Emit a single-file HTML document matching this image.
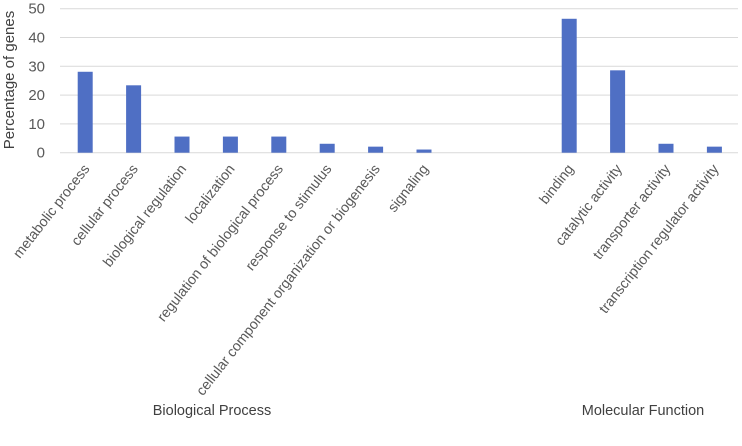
<!DOCTYPE html>
<html><head><meta charset="utf-8"><style>
body{margin:0;background:#fff;}
svg{display:block;font-family:"Liberation Sans",sans-serif;}
</style></head><body>
<svg id="chart" width="742" height="446">
<g id="grid"></g><g id="bars"></g><g id="labels"></g>
<text x="14" y="80" transform="rotate(-90 14 80)" text-anchor="middle" font-size="15" fill="#404040">Percentage of genes</text>
<text x="212" y="415" text-anchor="middle" font-size="14.5" fill="#404040">Biological Process</text>
<text x="643" y="415" text-anchor="middle" font-size="14.5" fill="#404040">Molecular Function</text>
</svg>
<script>
const categories=["metabolic process","cellular process","biological regulation","localization","regulation of biological process","response to stimulus","cellular component organization or biogenesis","signaling","","","binding","catalytic activity","transporter activity","transcription regulator activity"];
const values=[28.1,23.4,5.6,5.6,5.6,3.1,2.1,1.1,null,null,46.5,28.6,3.1,2.1];
const yTicks=[0,10,20,30,40,50];
const NS="http://www.w3.org/2000/svg";
const x0=61,slot=48.4,y0=152.7,y1=8.7,yMax=50;
const yS=v=>y0-(v/yMax)*(y0-y1);
const xC=i=>x0+slot*(i+0.5);
const grid=document.getElementById('grid'),bars=document.getElementById('bars'),labels=document.getElementById('labels');
function mk(t,a){const e=document.createElementNS(NS,t);for(const k in a)e.setAttribute(k,a[k]);return e;}
yTicks.forEach(t=>{
 const l=mk('line',{x1:60,x2:738,y1:yS(t),y2:yS(t),stroke:'#d9d9d9','stroke-width':1});
 
 
 grid.appendChild(l);
 const tx=mk('text',{x:45,y:yS(t)+5,'text-anchor':'end','font-size':15,fill:'#595959'});
 tx.textContent=t;
 
 
 grid.appendChild(tx);
});
categories.forEach((c,i)=>{
 if(values[i]!=null){
  const r=mk('rect',{x:xC(i)-7.5,y:yS(values[i]),width:15,height:y0-yS(values[i]),fill:'#4f6fc4'});
  
  
  bars.appendChild(r);
 }
 if(c){
  const ax=xC(i)+5,ay=169;
  const t=mk('text',{x:ax,y:ay,'text-anchor':'end','font-size':14.2,fill:'#595959',transform:`rotate(-52 ${ax} ${ay})`});
  t.textContent=c;
  
  
  labels.appendChild(t);
 }
});
</script>
</body></html>
